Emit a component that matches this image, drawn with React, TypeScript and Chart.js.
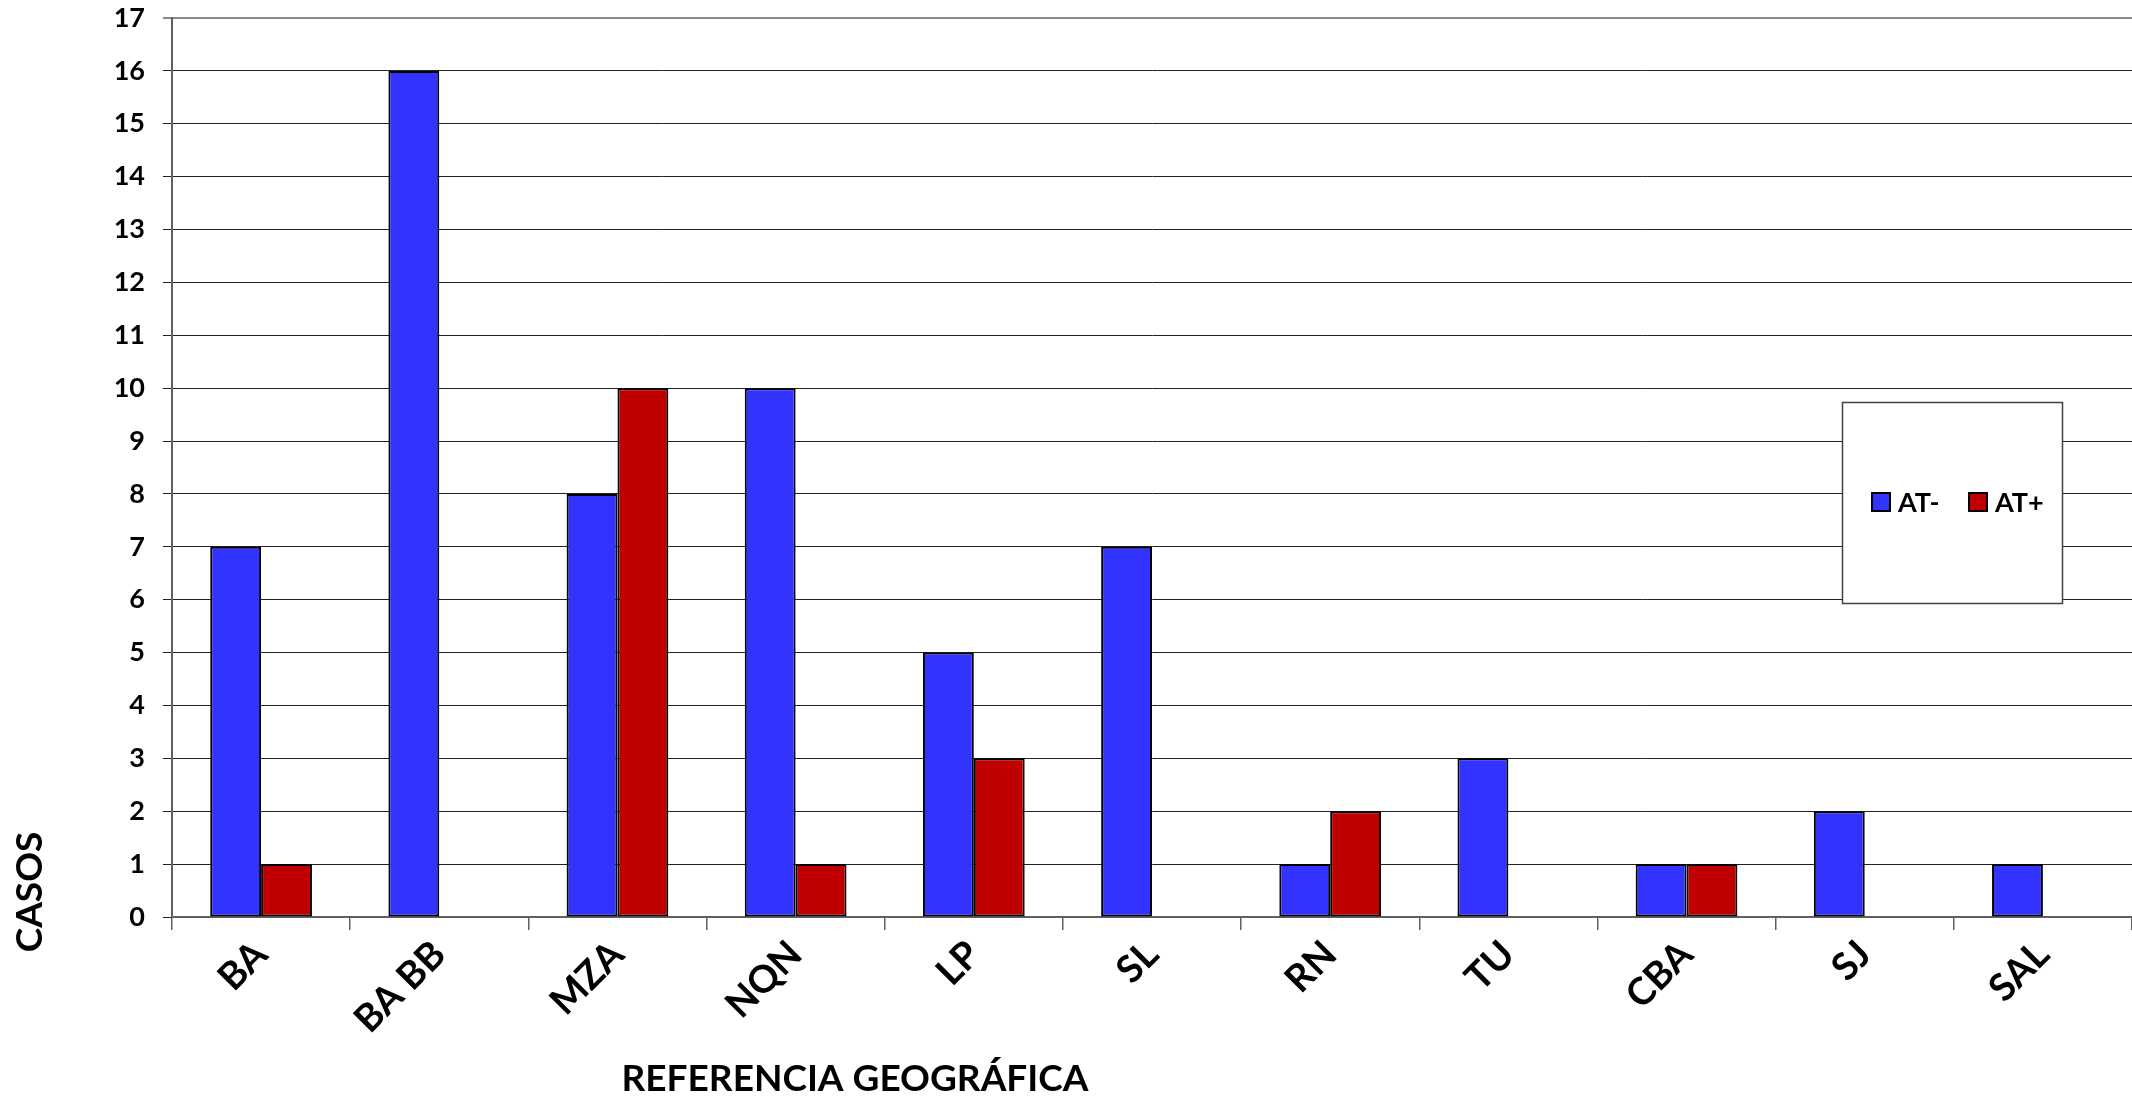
import React, { useEffect, useRef } from "react";
import { Chart, registerables } from "chart.js";

Chart.register(...registerables);

// ---- Data ----
const categories = ["BA", "BA BB", "MZA", "NQN", "LP", "SL", "RN", "TU", "CBA", "SJ", "SAL"];
const atNegValues = [7, 16, 8, 10, 5, 7, 1, 3, 1, 2, 1];
const atPosValues = [1, 0, 10, 1, 3, 0, 2, 0, 1, 0, 0];
const seriesLabels = ["AT-", "AT+"];
const seriesColors = ["#3333FF", "#C00000"];
const yMin = 0;
const yMax = 17;
const yStep = 1;
const yAxisTitle = "CASOS";
const xAxisTitle = "REFERENCIA GEOGRÁFICA";

const FONT = "Lato";
const W = 2132;
const H = 1096;

const overlayPlugin = {
  id: "overlay",
  afterDraw(chart: any) {
    const ctx = chart.ctx as CanvasRenderingContext2D;
    ctx.save();
    // Y axis title
    ctx.fillStyle = "#000";
    ctx.font = `bold 37px ${FONT}`;
    ctx.textAlign = "center";
    ctx.textBaseline = "middle";
    ctx.translate(30, 892);
    ctx.rotate(-Math.PI / 2);
    ctx.fillText(yAxisTitle, 0, 0);
    ctx.restore();

    // X axis title
    ctx.save();
    ctx.fillStyle = "#000";
    ctx.font = `bold 37px ${FONT}`;
    ctx.textAlign = "center";
    ctx.textBaseline = "middle";
    ctx.fillText(xAxisTitle, 855, 1079);
    ctx.restore();

    // Legend box
    ctx.save();
    const bx = 1842, by = 402, bw = 220, bh = 201;
    ctx.fillStyle = "#fff";
    ctx.fillRect(bx, by, bw, bh);
    ctx.strokeStyle = "#404040";
    ctx.lineWidth = 1.5;
    ctx.strokeRect(bx + 0.5, by + 0.5, bw, bh);
    const ds = chart.data.datasets;
    const itemX = [1872, 1969];
    const cy = 502;
    ctx.font = `bold 27px ${FONT}`;
    ctx.textAlign = "left";
    ctx.textBaseline = "middle";
    ds.forEach((d: any, i: number) => {
      const x = itemX[i];
      ctx.fillStyle = d.backgroundColor;
      ctx.fillRect(x, cy - 9, 18, 18);
      ctx.strokeStyle = "#000";
      ctx.lineWidth = 2;
      ctx.strokeRect(x, cy - 9, 18, 18);
      ctx.fillStyle = "#000";
      ctx.fillText(d.label, x + 26, cy + 1);
    });
    ctx.restore();
  },
};

export default function App() {
  const canvasRef = useRef<HTMLCanvasElement | null>(null);

  useEffect(() => {
    document.body.style.margin = "0";
    const canvas = canvasRef.current;
    if (!canvas) return;
    const chart = new Chart(canvas, {
      type: "bar",
      data: {
        labels: categories,
        datasets: [
          {
            label: seriesLabels[0],
            data: atNegValues,
            backgroundColor: seriesColors[0],
            borderColor: "#000",
            borderWidth: (c: any) => (c.raw ? 2 : 0),
            borderSkipped: false,
            barPercentage: 1,
            categoryPercentage: 0.571,
          },
          {
            label: seriesLabels[1],
            data: atPosValues,
            backgroundColor: seriesColors[1],
            borderColor: "#000",
            borderWidth: (c: any) => (c.raw ? 2 : 0),
            borderSkipped: false,
            barPercentage: 1,
            categoryPercentage: 0.571,
          },
        ],
      },
      options: {
        responsive: false,
        animation: false,
        devicePixelRatio: 1,
        layout: { padding: { left: 0, top: 18, right: -6, bottom: 0 } },
        plugins: {
          legend: { display: false },
          tooltip: { enabled: false },
          title: { display: false },
        },
        scales: {
          x: {
            offset: true,
            grid: {
              offset: true,
              drawOnChartArea: false,
              drawTicks: true,
              tickLength: 13,
              color: "#606060",
              lineWidth: 1.5,
            },
            border: { color: "#606060", width: 2 },
            ticks: {
              autoSkip: false,
              minRotation: 45,
              maxRotation: 45,
              padding: 2,
              color: "#000",
              font: { family: FONT, weight: "bold", size: 38 },
            },
            afterFit: (s: any) => {
              s.height = 179;
              s.paddingLeft = 0;
              s.paddingRight = 0;
            },
          },
          y: {
            min: yMin,
            max: yMax,
            ticks: {
              stepSize: yStep,
              padding: 18,
              color: "#000",
              font: { family: FONT, weight: "bold", size: 27 },
            },
            grid: {
              color: (c: any) => (c.tick && c.tick.value === yMax ? "#8a8a8a" : "#222"),
              lineWidth: (c: any) => (c.tick && c.tick.value === yMax ? 2 : 1),
              tickLength: 9,
            },
            border: { color: "#606060", width: 2 },
            afterFit: (s: any) => {
              s.width = 172;
              s.paddingTop = 0;
              s.paddingBottom = 0;
            },
          },
        },
      } as any,
      plugins: [overlayPlugin],
    });
    return () => chart.destroy();
  }, []);

  return (
    <div style={{ width: W, height: H, background: "#fff" }}>
      <canvas ref={canvasRef} width={W} height={H} style={{ display: "block", width: W, height: H }} />
    </div>
  );
}
